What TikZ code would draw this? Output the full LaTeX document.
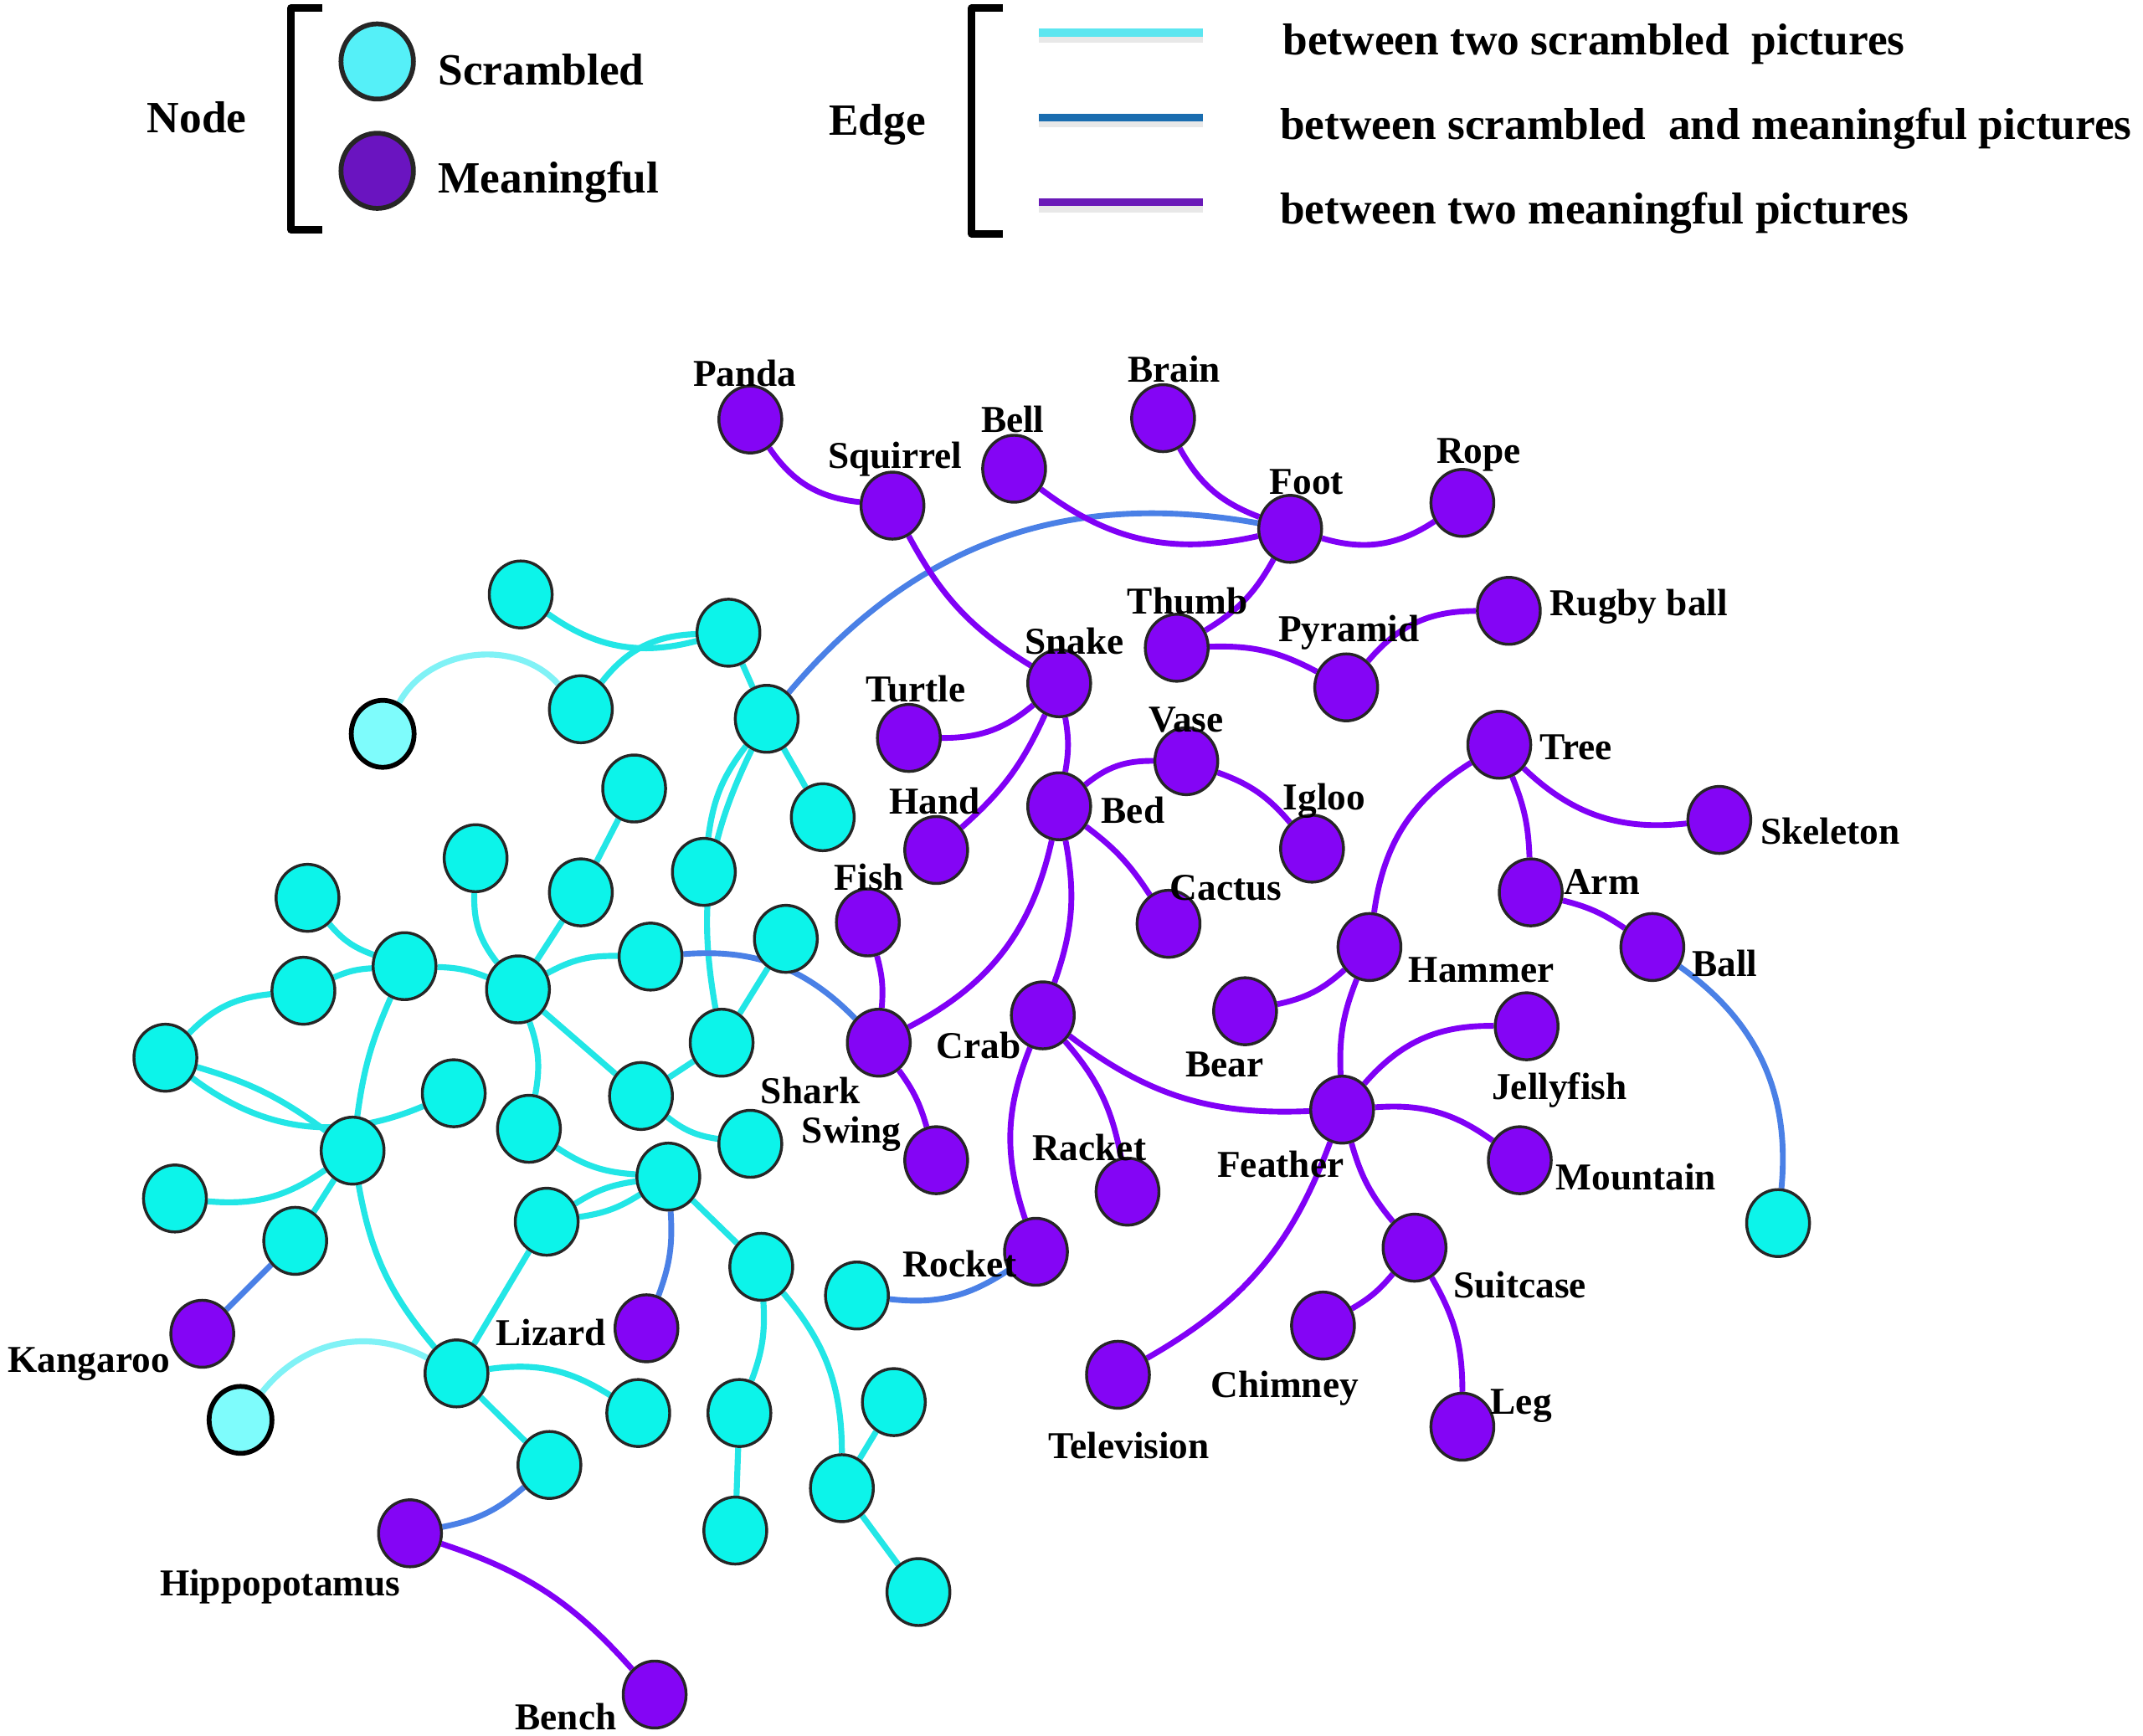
\documentclass[tikz,border=0pt]{standalone}
\usepackage{fontspec}
\setmainfont{Liberation Serif}
\usetikzlibrary{shapes.geometric,backgrounds}
\definecolor{Violet}{HTML}{8405F5}
\definecolor{Aqua}{HTML}{0CF4EA}
\definecolor{PaleAqua}{HTML}{7EFCFC}
\definecolor{AquaLine}{HTML}{22E6E6}
\definecolor{PaleLine}{HTML}{80F2F6}
\definecolor{MixLine}{HTML}{4A80E6}
\definecolor{VioletLine}{HTML}{8000F6}
\definecolor{KeyAqua}{HTML}{55F0F8}
\definecolor{KeyViolet}{HTML}{6A14C0}
\definecolor{KeyAquaLine}{HTML}{5CE6F0}
\definecolor{KeyBlueLine}{HTML}{1A6DB0}
\definecolor{KeyVioletLine}{HTML}{6A1AB8}
\tikzset{
  net node/.style={ellipse,draw=black!85,line width=.6pt,minimum width=4.6mm,
    minimum height=4.9mm,inner sep=0pt},
  net scrambled/.style={net node,fill=Aqua},
  net faint/.style={net node,fill=PaleAqua,draw=black,line width=1pt},
  net meaningful/.style={net node,fill=Violet},
  net label/.style={font=\fontsize{7.9}{9}\selectfont\bfseries,inner sep=0pt},
  key text/.style={font=\fontsize{9.3}{11}\selectfont\bfseries,inner sep=0pt},
  key bracket/.style={line width=1.6pt,line join=round},
  key line/.style={line width=1.7pt},
  key shadow/.style={line width=1.6pt,draw=black!9},
  link scrambled/.style={line width=1.25pt,draw=AquaLine},
  link faint/.style={line width=1.25pt,draw=PaleLine},
  link mixed/.style={line width=1.2pt,draw=MixLine},
  link meaningful/.style={line width=1.2pt,draw=VioletLine}
}
\begin{document}
\begin{tikzpicture}[x=0.1mm,y=-0.1mm]
  \useasboundingbox (0,0) rectangle (1568,1270);
  % legend
  \node[key text,anchor=base] (nodeKey) at (144,97) {Node};
  \draw[key bracket] (236,6) -- (213,6) -- (213,168) -- (236,168);
  \node[net node,fill=KeyAqua,line width=1pt,minimum width=5.3mm,minimum height=5.5mm] (keyS) at (276,45) {};
  \node[net node,fill=KeyViolet,line width=1pt,minimum width=5.3mm,minimum height=5.5mm] (keyM) at (276,125) {};
  \node[key text,anchor=base west] (keyST) at (320,62) {Scrambled};
  \node[key text,anchor=base west] (keyMT) at (320,141) {Meaningful};
  \node[key text,anchor=base] (edgeKey) at (642,99) {Edge};
  \draw[key bracket] (734,6) -- (711,6) -- (711,171) -- (734,171);
  \coordinate (kA1) at (760,24);  \coordinate (kA2) at (880,24);
  \coordinate (kB1) at (760,86);  \coordinate (kB2) at (880,86);
  \coordinate (kC1) at (760,148); \coordinate (kC2) at (880,148);
  \draw[key shadow] ([yshift=-.45mm]kA1) -- ([yshift=-.45mm]kA2);
  \draw[key shadow] ([yshift=-.45mm]kB1) -- ([yshift=-.45mm]kB2);
  \draw[key shadow] ([yshift=-.45mm]kC1) -- ([yshift=-.45mm]kC2);
  \draw[key line,draw=KeyAquaLine] (kA1) -- (kA2);
  \draw[key line,draw=KeyBlueLine] (kB1) -- (kB2);
  \draw[key line,draw=KeyVioletLine] (kC1) -- (kC2);
  \node[key text,anchor=base west] (keyAT) at (938,40) {between two scrambled\ \ pictures};
  \node[key text,anchor=base west] (keyBT) at (936,102) {between scrambled\ \ and meaningful pictures};
  \node[key text,anchor=base west] (keyCT) at (936,164) {between two meaningful pictures};
  % scrambled pictures
  \node[net scrambled] (s1) at (381,435) {};
  \node[net scrambled] (s2) at (533,463) {};
  \node[net scrambled] (s3) at (425,519) {};
  \node[net faint] (s4) at (280,537) {};
  \node[net scrambled] (s5) at (561,526) {};
  \node[net scrambled] (s6) at (464,577) {};
  \node[net scrambled] (s7) at (602,598) {};
  \node[net scrambled] (s8) at (348,628) {};
  \node[net scrambled] (s9) at (425,653) {};
  \node[net scrambled] (s10) at (515,638) {};
  \node[net scrambled] (s11) at (225,657) {};
  \node[net scrambled] (s12) at (296,707) {};
  \node[net scrambled] (s13) at (222,725) {};
  \node[net scrambled] (s14) at (379,724) {};
  \node[net scrambled] (s15) at (476,700) {};
  \node[net scrambled] (s16) at (575,687) {};
  \node[net scrambled] (s17) at (121,774) {};
  \node[net scrambled] (s18) at (528,763) {};
  \node[net scrambled] (s19) at (332,800) {};
  \node[net scrambled] (s20) at (469,802) {};
  \node[net scrambled] (s21) at (387,826) {};
  \node[net scrambled] (s22) at (549,837) {};
  \node[net scrambled] (s23) at (258,842) {};
  \node[net scrambled] (s24) at (489,861) {};
  \node[net scrambled] (s25) at (128,877) {};
  \node[net scrambled] (s26) at (400,894) {};
  \node[net scrambled] (s27) at (216,908) {};
  \node[net scrambled] (s28) at (557,927) {};
  \node[net scrambled] (s29) at (627,948) {};
  \node[net scrambled] (s30) at (334,1005) {};
  \node[net scrambled] (s31) at (467,1034) {};
  \node[net faint] (s32) at (176,1039) {};
  \node[net scrambled] (s33) at (541,1034) {};
  \node[net scrambled] (s34) at (654,1026) {};
  \node[net scrambled] (s35) at (616,1089) {};
  \node[net scrambled] (s36) at (402,1072) {};
  \node[net scrambled] (s37) at (538,1120) {};
  \node[net scrambled] (s38) at (672,1165) {};
  \node[net scrambled] (s39) at (1301,895) {};
  % meaningful pictures
  \node[net meaningful] (panda) at (549,307) {};
  \node[net meaningful] (squirrel) at (653,370) {};
  \node[net meaningful] (bell) at (742,343) {};
  \node[net meaningful] (brain) at (851,306) {};
  \node[net meaningful] (foot) at (944,387) {};
  \node[net meaningful] (rope) at (1070,368) {};
  \node[net meaningful] (thumb) at (861,474) {};
  \node[net meaningful] (pyramid) at (985,503) {};
  \node[net meaningful] (rugby) at (1104,447) {};
  \node[net meaningful] (snake) at (775,500) {};
  \node[net meaningful] (turtle) at (665,540) {};
  \node[net meaningful] (vase) at (868,557) {};
  \node[net meaningful] (igloo) at (960,621) {};
  \node[net meaningful] (bed) at (775,590) {};
  \node[net meaningful] (hand) at (685,622) {};
  \node[net meaningful] (cactus) at (855,676) {};
  \node[net meaningful] (fish) at (635,675) {};
  \node[net meaningful] (tree) at (1097,545) {};
  \node[net meaningful] (skeleton) at (1258,600) {};
  \node[net meaningful] (arm) at (1120,653) {};
  \node[net meaningful] (ball) at (1209,693) {};
  \node[net meaningful] (hammer) at (1002,693) {};
  \node[net meaningful] (bear) at (911,740) {};
  \node[net meaningful] (crab) at (763,743) {};
  \node[net meaningful] (shark) at (643,763) {};
  \node[net meaningful] (jellyfish) at (1117,751) {};
  \node[net meaningful] (feather) at (982,812) {};
  \node[net meaningful] (mountain) at (1112,849) {};
  \node[net meaningful] (swing) at (685,849) {};
  \node[net meaningful] (racket) at (825,872) {};
  \node[net meaningful] (rocket) at (758,916) {};
  \node[net meaningful] (suitcase) at (1035,913) {};
  \node[net meaningful] (chimney) at (968,970) {};
  \node[net meaningful] (television) at (818,1006) {};
  \node[net meaningful] (leg) at (1070,1044) {};
  \node[net meaningful] (lizard) at (473,972) {};
  \node[net meaningful] (kangaroo) at (148,976) {};
  \node[net meaningful] (hippo) at (300,1122) {};
  \node[net meaningful] (bench) at (479,1240) {};
  % labels
  \node[net label] (pandaL) at (545,273) {Panda};
  \node[net label] (squirrelL) at (655,336) {Squirrel};
  \node[net label] (bellL) at (741,307) {Bell};
  \node[net label] (brainL) at (859,270) {Brain};
  \node[net label] (footL) at (956,353) {Foot};
  \node[net label] (ropeL) at (1082,333) {Rope};
  \node[net label] (thumbL) at (869,440) {Thumb};
  \node[net label] (pyramidL) at (987,463) {Pyramid};
  \node[net label] (rugbyL) at (1199,444) {Rugby ball};
  \node[net label] (snakeL) at (786,469) {Snake};
  \node[net label] (turtleL) at (670,504) {Turtle};
  \node[net label] (vaseL) at (868,527) {Vase};
  \node[net label] (iglooL) at (969,586) {Igloo};
  \node[net label] (bedL) at (829,593) {Bed};
  \node[net label] (handL) at (684,586) {Hand};
  \node[net label] (cactusL) at (897,650) {Cactus};
  \node[net label] (fishL) at (636,642) {Fish};
  \node[net label] (treeL) at (1153,547) {Tree};
  \node[net label] (skeletonL) at (1339,608) {Skeleton};
  \node[net label] (armL) at (1172,645) {Arm};
  \node[net label] (ballL) at (1262,705) {Ball};
  \node[net label] (hammerL) at (1084,710) {Hammer};
  \node[net label] (bearL) at (896,779) {Bear};
  \node[net label] (crabL) at (716,765) {Crab};
  \node[net label] (sharkL) at (593,798) {Shark};
  \node[net label] (swingL) at (623,830) {Swing};
  \node[net label] (jellyfishL) at (1141,798) {Jellyfish};
  \node[net label] (featherL) at (937,852) {Feather};
  \node[net label] (racketL) at (797,840) {Racket};
  \node[net label] (mountainL) at (1197,861) {Mountain};
  \node[net label] (rocketL) at (702,925) {Rocket};
  \node[net label] (suitcaseL) at (1112,940) {Suitcase};
  \node[net label] (chimneyL) at (940,1016) {Chimney};
  \node[net label] (televisionL) at (826,1058) {Television};
  \node[net label] (legL) at (1113,1029) {Leg};
  \node[net label] (lizardL) at (403,975) {Lizard};
  \node[net label] (kangarooL) at (65,998) {Kangaroo};
  \node[net label] (hippoL) at (205,1161) {Hippopotamus};
  \node[net label] (benchL) at (414,1256) {Bench};
  \begin{scope}[on background layer]
    % between two scrambled pictures
    \draw[link scrambled] (s1) to[bend right=25] (s2);
    \draw[link scrambled] (s3) to[bend left=25] (s2);
    \draw[link faint] (s4) to[bend left=55] (s3);
    \draw[link scrambled] (s2) -- (s5);
    \draw[link scrambled] (s5) -- (s7);
    \draw[link scrambled] (s5) to[bend right=15] (s10);
    \draw[link scrambled] (s5) to[bend right=18] (s18);
    \draw[link scrambled] (s16) -- (s18);
    \draw[link scrambled] (s6) -- (s9);
    \draw[link scrambled] (s8) to[bend right=20] (s14);
    \draw[link scrambled] (s9) -- (s14);
    \draw[link scrambled] (s14) to[bend left=15] (s15);
    \draw[link scrambled] (s11) to[bend right=15] (s12);
    \draw[link scrambled] (s17) to[bend left=20] (s13);
    \draw[link scrambled] (s13) to[bend left=10] (s12);
    \draw[link scrambled] (s12) to[bend left=10] (s14);
    \draw[link scrambled] (s12) to[bend right=8] (s23);
    \draw[link scrambled] (s17) to[bend left=10] (s23);
    \draw[link scrambled] (s17) to[bend right=30] (s19);
    \draw[link scrambled] (s23) to[bend left=20] (s25);
    \draw[link scrambled] (s23) -- (s27);
    \draw[link scrambled] (s23) to[bend right=15] (s30);
    \draw[link scrambled] (s14) -- (s20);
    \draw[link scrambled] (s14) to[bend left=15] (s21);
    \draw[link scrambled] (s21) to[bend right=15] (s24);
    \draw[link scrambled] (s26) to[bend left=12] (s24);
    \draw[link scrambled] (s26) to[bend right=12] (s24);
    \draw[link scrambled] (s26) -- (s30);
    \draw[link scrambled] (s18) -- (s20);
    \draw[link scrambled] (s20) to[bend right=15] (s22);
    \draw[link scrambled] (s24) -- (s28);
    \draw[link scrambled] (s28) to[bend left=12] (s33);
    \draw[link scrambled] (s28) to[bend left=20] (s35);
    \draw[link scrambled] (s33) -- (s37);
    \draw[link scrambled] (s34) -- (s35);
    \draw[link scrambled] (s35) -- (s38);
    \draw[link scrambled] (s30) to[bend left=20] (s31);
    \draw[link scrambled] (s30) -- (s36);
    \draw[link faint] (s32) to[bend left=40] (s30);
    % between scrambled and meaningful pictures
    \draw[link mixed] (s5) to[bend left=30] (foot);
    \draw[link mixed] (s15) to[bend left=25] (shark);
    \draw[link mixed] (s24) to[bend left=12] (lizard);
    \draw[link mixed] (s29) to[bend right=20] (rocket);
    \draw[link mixed] (s27) -- (kangaroo);
    \draw[link mixed] (s36) to[bend left=15] (hippo);
    \draw[link mixed] (ball) to[bend left=30] (s39);
    % between two meaningful pictures
    \draw[link meaningful] (panda) to[bend right=25] (squirrel);
    \draw[link meaningful] (squirrel) to[bend right=15] (snake);
    \draw[link meaningful] (bell) to[bend right=25] (foot);
    \draw[link meaningful] (brain) to[bend right=20] (foot);
    \draw[link meaningful] (foot) to[bend right=25] (rope);
    \draw[link meaningful] (foot) to[bend left=15] (thumb);
    \draw[link meaningful] (thumb) to[bend left=15] (pyramid);
    \draw[link meaningful] (pyramid) to[bend left=25] (rugby);
    \draw[link meaningful] (snake) to[bend left=20] (turtle);
    \draw[link meaningful] (snake) to[bend left=12] (hand);
    \draw[link meaningful] (snake) to[bend left=10] (bed);
    \draw[link meaningful] (bed) to[bend left=20] (vase);
    \draw[link meaningful] (vase) to[bend left=15] (igloo);
    \draw[link meaningful] (bed) to[bend left=10] (cactus);
    \draw[link meaningful] (bed) to[bend left=25] (shark);
    \draw[link meaningful] (bed) to[bend left=15] (crab);
    \draw[link meaningful] (fish) to[bend left=10] (shark);
    \draw[link meaningful] (shark) to[bend left=10] (swing);
    \draw[link meaningful] (crab) to[bend right=20] (rocket);
    \draw[link meaningful] (crab) to[bend left=15] (racket);
    \draw[link meaningful] (crab) to[bend right=20] (feather);
    \draw[link meaningful] (tree) to[bend right=25] (hammer);
    \draw[link meaningful] (tree) to[bend left=10] (arm);
    \draw[link meaningful] (tree) to[bend right=25] (skeleton);
    \draw[link meaningful] (arm) to[bend left=10] (ball);
    \draw[link meaningful] (hammer) to[bend left=15] (bear);
    \draw[link meaningful] (hammer) to[bend right=12] (feather);
    \draw[link meaningful] (feather) to[bend left=25] (jellyfish);
    \draw[link meaningful] (feather) to[bend left=20] (mountain);
    \draw[link meaningful] (feather) to[bend left=20] (television);
    \draw[link meaningful] (feather) to[bend right=12] (suitcase);
    \draw[link meaningful] (suitcase) to[bend left=10] (chimney);
    \draw[link meaningful] (suitcase) to[bend left=15] (leg);
    \draw[link meaningful] (hippo) to[bend left=15] (bench);
  \end{scope}
\end{tikzpicture}
\end{document}
